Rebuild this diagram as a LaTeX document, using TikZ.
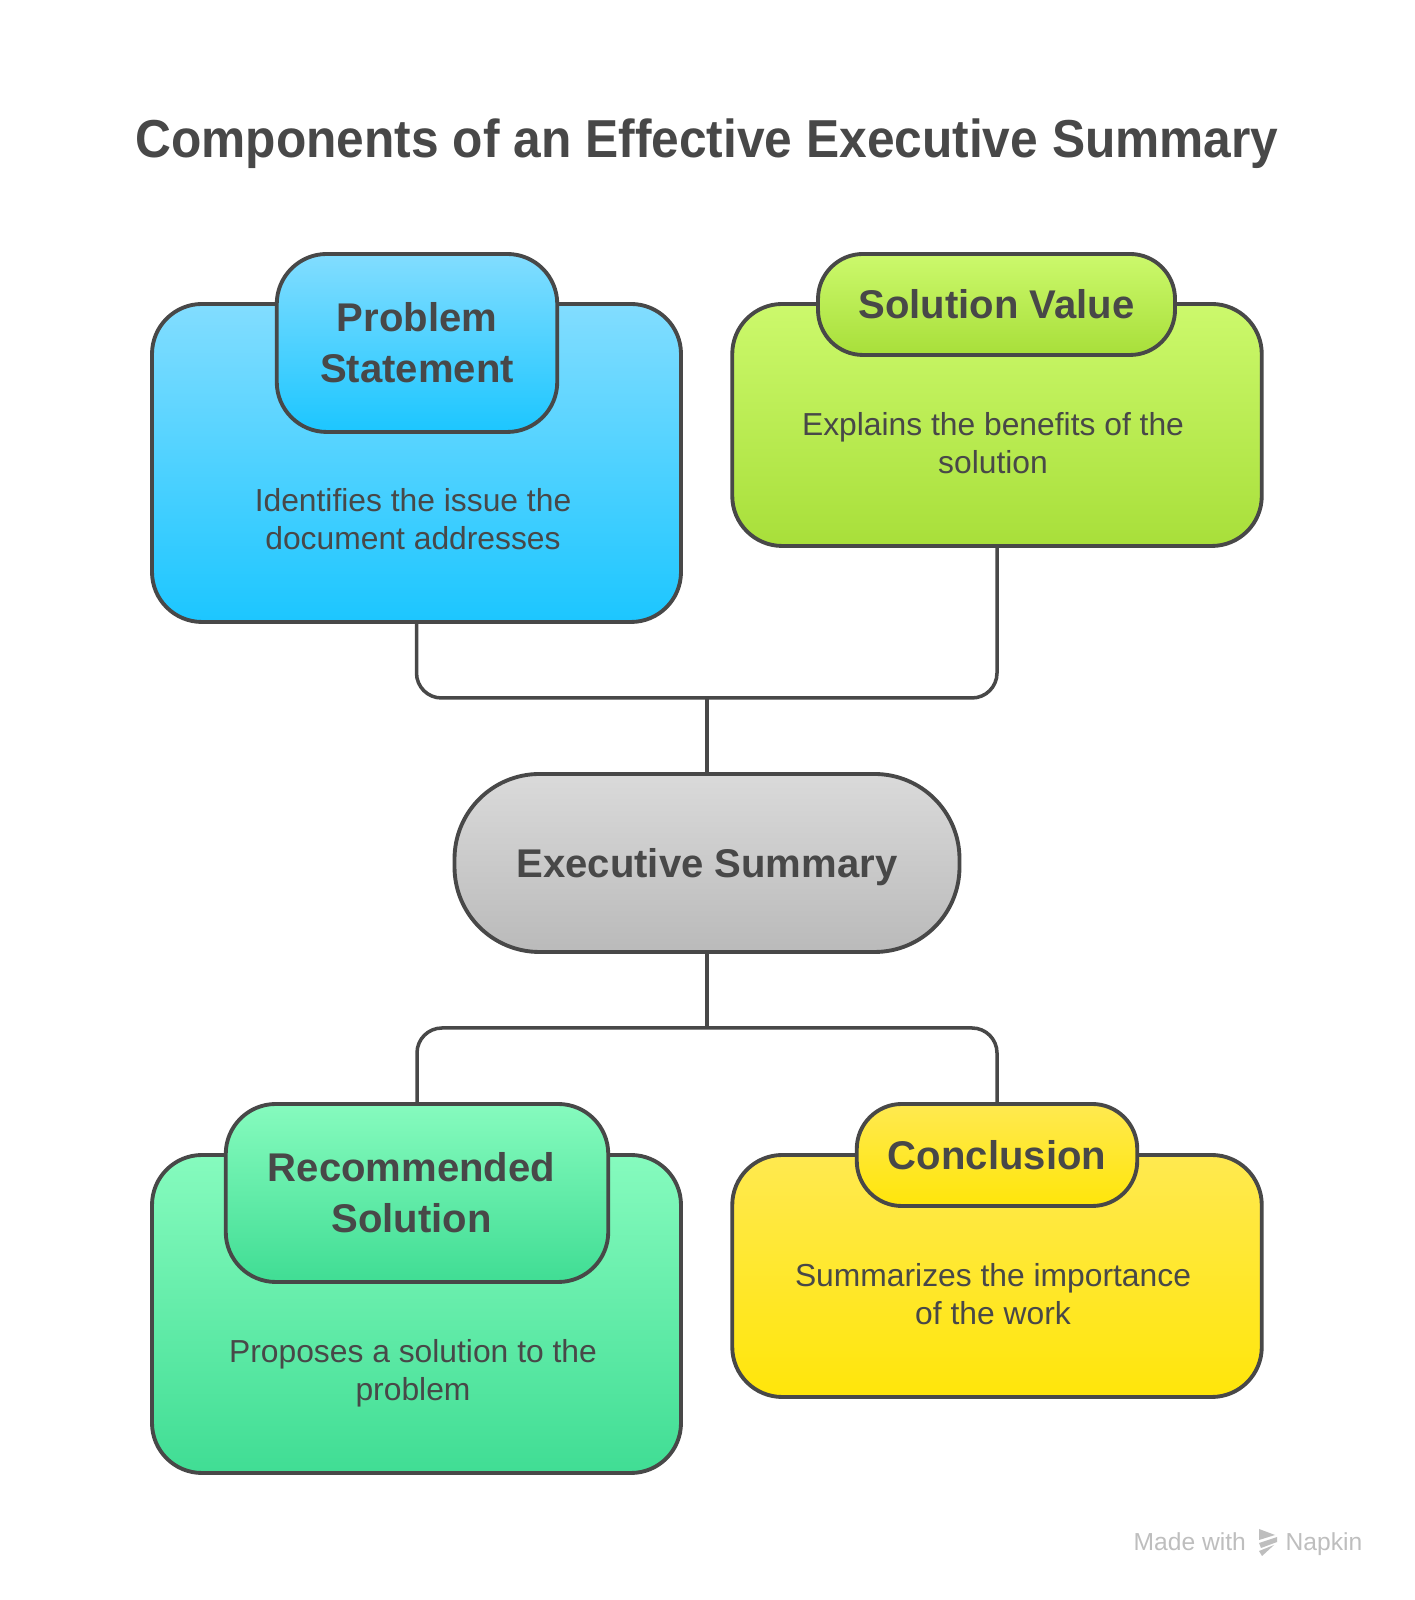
\documentclass[tikz,border=0pt]{standalone}
\usepackage{fontspec}
\setmainfont{Liberation Sans}
\newfontfamily\titlefont[FakeStretch=0.93]{Liberation Sans}
\usepackage{xcolor}
\usetikzlibrary{positioning}
\usetikzlibrary{calc}
\definecolor{darkline}{RGB}{72,72,72}
\definecolor{footgray}{RGB}{190,190,190}
\definecolor{bluetop}{RGB}{130,221,255}
\definecolor{bluebot}{RGB}{28,198,255}
\definecolor{limetop}{RGB}{204,249,108}
\definecolor{limebot}{RGB}{168,223,58}
\definecolor{graytop}{RGB}{218,218,218}
\definecolor{graybot}{RGB}{186,186,186}
\definecolor{minttop}{RGB}{134,251,190}
\definecolor{mintbot}{RGB}{64,221,148}
\definecolor{yellowtop}{RGB}{255,233,80}
\definecolor{yellowbot}{RGB}{255,230,10}
\tikzset{
	panel/.style={draw=darkline, line width=1.1pt, rounded corners=0.5cm, inner sep=0pt, align=center, text=darkline},
	headtext/.style={font=\fontsize{11.4}{14.5}\selectfont\bfseries},
	desctext/.style={font=\fontsize{9.05}{10.8}\selectfont, text=darkline, align=center},
	foottext/.style={font=\fontsize{7}{8}\selectfont, text=footgray, anchor=base west, inner sep=0pt},
	link/.style={draw=darkline, line width=1pt, rounded corners=0.25cm},
}

\begin{document}
\begin{tikzpicture}
	\useasboundingbox (0,0) rectangle (14.14,16);
	\fill[white] (0,0) rectangle (14.14,16);
	\node[font=\fontsize{15.2}{18}\selectfont\titlefont\bfseries, text=darkline] (title) at (7.07,14.56) {Components of an Effective Executive Summary};
	% connectors
	\coordinate (topjoin) at (7.07,9.02);
	\coordinate (botjoin) at (7.07,5.72);
	% top left
	\node[panel, top color=bluetop, bottom color=bluebot, minimum width=5.29cm, minimum height=3.18cm] (problem) at (4.165,11.37) {};
	\node[panel, headtext, top color=bluetop, bottom color=bluebot, minimum width=2.805cm, minimum height=1.78cm] (problemhead) at (4.17,12.57) {Problem\\Statement};
	\node[desctext] (problemtext) at (4.13,10.81) {Identifies the issue the\\document addresses};
	% top right
	\node[panel, top color=limetop, bottom color=limebot, minimum width=5.295cm, minimum height=2.42cm] (solution) at (9.97,11.75) {};
	\node[panel, headtext, top color=limetop, bottom color=limebot, minimum width=3.57cm, minimum height=1.01cm, rounded corners=0.45cm] (solutionhead) at (9.965,12.955) {Solution Value};
	\node[desctext] (solutiontext) at (9.93,11.57) {Explains the benefits of the\\solution};
	% centre
	\node[panel, headtext, top color=graytop, bottom color=graybot, minimum width=5.05cm, minimum height=1.78cm, rounded corners=0.85cm, text depth=0pt] (summary) at (7.07,7.37) {Executive Summary};
	% bottom left
	\node[panel, top color=minttop, bottom color=mintbot, minimum width=5.29cm, minimum height=3.18cm] (recommended) at (4.165,2.86) {};
	\node[panel, top color=minttop, bottom color=mintbot, minimum width=3.825cm, minimum height=1.78cm] (recommendedhead) at (4.17,4.07) {};
	\node[headtext, text=darkline, align=center, inner sep=0pt] (recommendedlabel) at (4.115,4.07) {Recommended\\Solution};
	\node[desctext] (recommendedtext) at (4.13,2.27) {Proposes a solution to the\\problem};
	% bottom right
	\node[panel, top color=yellowtop, bottom color=yellowbot, minimum width=5.295cm, minimum height=2.42cm] (conclusion) at (9.97,3.24) {};
	\node[panel, headtext, top color=yellowtop, bottom color=yellowbot, minimum width=2.805cm, minimum height=1.02cm, rounded corners=0.45cm] (conclusionhead) at (9.97,4.45) {Conclusion};
	\node[desctext] (conclusiontext) at (9.93,3.06) {Summarizes the importance\\of the work};
	% links
	\draw[link] (problem.south) |- (topjoin) -| (solution.south);
	\draw[link] (topjoin) -- (summary.north);
	\draw[link] (summary.south) -- (botjoin);
	\draw[link] (recommendedhead.north) |- (botjoin) -| (conclusionhead.north);
	% footer
	\node[foottext] (madewith) at (11.33,0.5) {Made with};
	\node[foottext] (napkin) at (12.85,0.5) {Napkin};
	\fill[footgray] (12.59,0.71) -- (12.75,0.65) -- (12.59,0.6) -- cycle;
	\fill[footgray] (12.59,0.57) -- (12.77,0.63) -- (12.77,0.58) -- (12.61,0.52) -- cycle;
	\fill[footgray] (12.59,0.49) -- (12.74,0.55) -- (12.62,0.44) -- cycle;
\end{tikzpicture}
\end{document}
